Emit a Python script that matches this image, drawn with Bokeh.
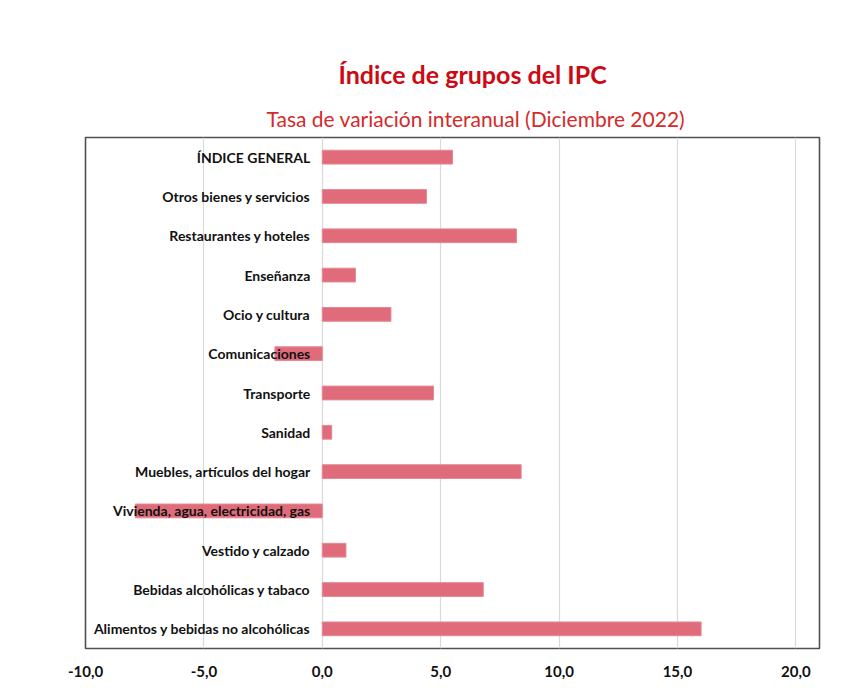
from bokeh.plotting import figure
from bokeh.models import ColumnDataSource, FactorRange, Range1d, FixedTicker, CustomJSTickFormatter, Title
from bokeh.core.properties import value
from bokeh.embed import file_html
from bokeh.resources import INLINE

categories = [
    "Alimentos y bebidas no alcohólicas",
    "Bebidas alcohólicas y tabaco",
    "Vestido y calzado",
    "Vivienda, agua, electricidad, gas",
    "Muebles, artículos del hogar",
    "Sanidad",
    "Transporte",
    "Comunicaciones",
    "Ocio y cultura",
    "Enseñanza",
    "Restaurantes y hoteles",
    "Otros bienes y servicios",
    "ÍNDICE GENERAL",
]
values = [16.0, 6.8, 1.0, -7.9, 8.4, 0.4, 4.7, -2.0, 2.9, 1.4, 8.2, 4.4, 5.5]
x_ticks = [-10, -5, 0, 5, 10, 15, 20]
title_text = "Índice de grupos del IPC"
subtitle_text = "Tasa de variación interanual (Diciembre 2022)"

source = ColumnDataSource(dict(cat=categories, val=values, zero=[0] * len(values)))

p = figure(
    width=837, height=680,
    y_range=FactorRange(factors=categories, range_padding=0),
    x_range=Range1d(-10, 21),
    output_backend="svg", toolbar_location=None,
    min_border_left=85, min_border_right=18, min_border_top=137, min_border_bottom=32,
)
p.background_fill_color = "white"
p.border_fill_color = "white"
p.outline_line_color = "#505050"
p.outline_line_width = 1.6

# main title (outermost)
p.title.text = title_text
p.title.align = "left"
p.title.offset = 253
p.title.text_font = "Lato"
p.title.text_font_style = "bold"
p.title.text_font_size = "25px"
p.title.text_color = "#CC0A14"
p.title.standoff = 0

subtitle = Title(text=subtitle_text, align="left", offset=181,
                 text_font="Lato", text_font_style="normal", text_font_size="21px",
                 text_color="#D42A2A", standoff=14)
p.add_layout(subtitle, "above")
spacer = Title(text=" ", text_font_size="6px", standoff=0)
p.add_layout(spacer, "above")

p.hbar(y="cat", left="zero", right="val", height=0.35, source=source,
       fill_color="#E06C7B", line_color="#E58893", line_width=1)

p.text(x="zero", y="cat", text="cat", source=source, x_offset=-12,
       text_align="right", text_baseline="middle",
       text_font=value("Lato"), text_font_style="bold", text_font_size="14px",
       text_color="#111111")

p.yaxis.visible = False
p.ygrid.visible = False
p.xgrid.ticker = FixedTicker(ticks=x_ticks)
p.xgrid.grid_line_color = "#D9D9D9"
p.xgrid.grid_line_width = 1.2

xa = p.xaxis[0]
xa.ticker = FixedTicker(ticks=x_ticks)
xa.formatter = CustomJSTickFormatter(code="return tick.toFixed(1).replace('.', ',');")
xa.axis_line_color = None
xa.major_tick_line_color = None
xa.minor_tick_line_color = None
xa.major_label_text_font = "Lato"
xa.major_label_text_font_style = "bold"
xa.major_label_text_font_size = "15px"
xa.major_label_text_color = "#111111"
xa.major_label_standoff = 11

open("out.html", "w").write(file_html(p, INLINE))
